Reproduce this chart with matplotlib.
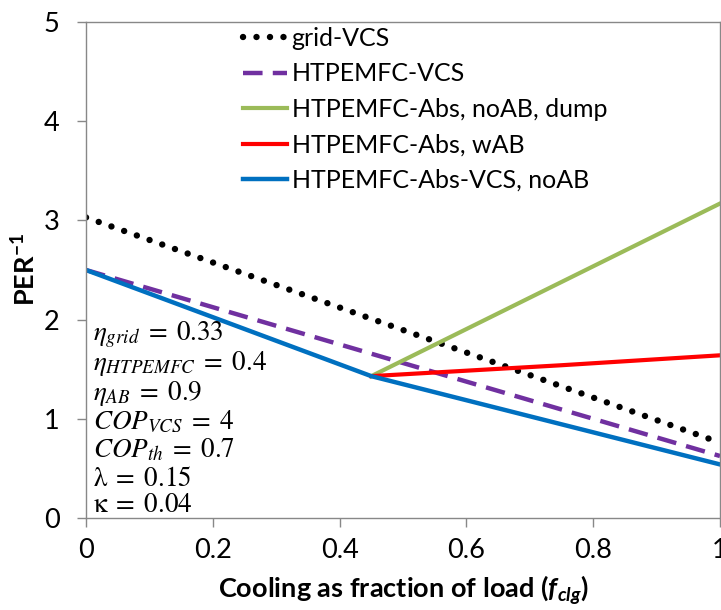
import numpy as np
import matplotlib.pyplot as plt

plt.rcParams['font.family'] = ['Lato', 'DejaVu Sans']
plt.rcParams['mathtext.fontset'] = 'custom'
plt.rcParams['mathtext.rm'] = 'Lato'
plt.rcParams['mathtext.it'] = 'Lato:italic'
plt.rcParams['mathtext.bf'] = 'Lato:bold'
plt.rcParams['mathtext.bfit'] = 'Lato:bold:italic'

### data
frac_grid = [0.0, 1.0]
per_grid = [3.03, 0.76]
frac_vcs = [0.0, 1.0]
per_vcs = [2.50, 0.625]
frac_dump = [0.45, 1.0]
per_dump = [1.43, 3.17]
frac_wab = [0.45, 0.75, 1.0]
per_wab = [1.43, 1.54, 1.64]
frac_abs = [0.0, 0.45, 1.0]
per_abs = [2.50, 1.43, 0.54]

params = [r'$\eta_{grid}\;=\;0.33$',
          r'$\eta_{HTPEMFC}\;=\;0.4$',
          r'$\eta_{AB}\;=\;0.9$',
          r'$COP_{VCS}\;=\;4$',
          r'$COP_{th}\;=\;0.7$',
          r'$\mathrm{λ}\;=\;0.15$',
          r'$\mathrm{κ}\;=\;0.04$']

fig = plt.figure(figsize=(7.21, 6.10), dpi=100)
ax = fig.add_axes([86/721, 1-518/610, 634/721, 496/610])

ax.plot(frac_grid, per_grid, color='black', lw=4.6, ls=(0, (0.01, 2.1)),
        dash_capstyle='round', label='grid-VCS')
ax.plot(frac_vcs, per_vcs, color='#7030A0', lw=3.2, ls=(0, (4.4, 2.3)),
        label='HTPEMFC-VCS')
ax.plot(frac_dump, per_dump, color='#9BBB59', lw=3.0, label='HTPEMFC-Abs, noAB, dump')
ax.plot(frac_wab, per_wab, color='#FF0000', lw=3.0, label='HTPEMFC-Abs, wAB')
ax.plot(frac_abs, per_abs, color='#0070C0', lw=3.2, label='HTPEMFC-Abs-VCS, noAB')

ax.set_xlim(0, 1)
ax.set_ylim(0, 5)
ax.set_xticks([0, 0.2, 0.4, 0.6, 0.8, 1])
ax.set_xticklabels(['0', '0.2', '0.4', '0.6', '0.8', '1'])
ax.set_yticks(range(6))
for s in ax.spines.values():
    s.set_color('#888888')
    s.set_linewidth(1.0)
ax.tick_params(axis='both', color='#888888', length=6.5, width=1.0, labelsize=19.5)
ax.tick_params(axis='x', pad=8)
ax.tick_params(axis='y', pad=12.5)

ax.set_ylabel(r'PER$^{\mathbf{-1}}$', fontsize=19.5, fontweight='bold', va='center')
ax.yaxis.set_label_coords(-0.096, 0.5)
ax.set_xlabel(r'Cooling as fraction of load ($\mathbfit{f_{clg}}$)', fontsize=19.5,
              fontweight='bold', va='center')
ax.xaxis.set_label_coords(0.5, -0.146)

leg = ax.legend(loc='upper left', bbox_to_anchor=(0.2476, 0.99), frameon=False,
                fontsize=18, handlelength=1.75, handletextpad=0.2, labelspacing=0.5,
                borderaxespad=0, borderpad=0)

ys = [335, 364, 393, 422, 450, 478, 505]
for txt, yp in zip(params, ys):
    ax.text(0.011, (518 - yp) / 99.2, txt, fontsize=19.5, math_fontfamily='stix',
            va='center', ha='left')

fig.savefig('out.png', dpi=100)
